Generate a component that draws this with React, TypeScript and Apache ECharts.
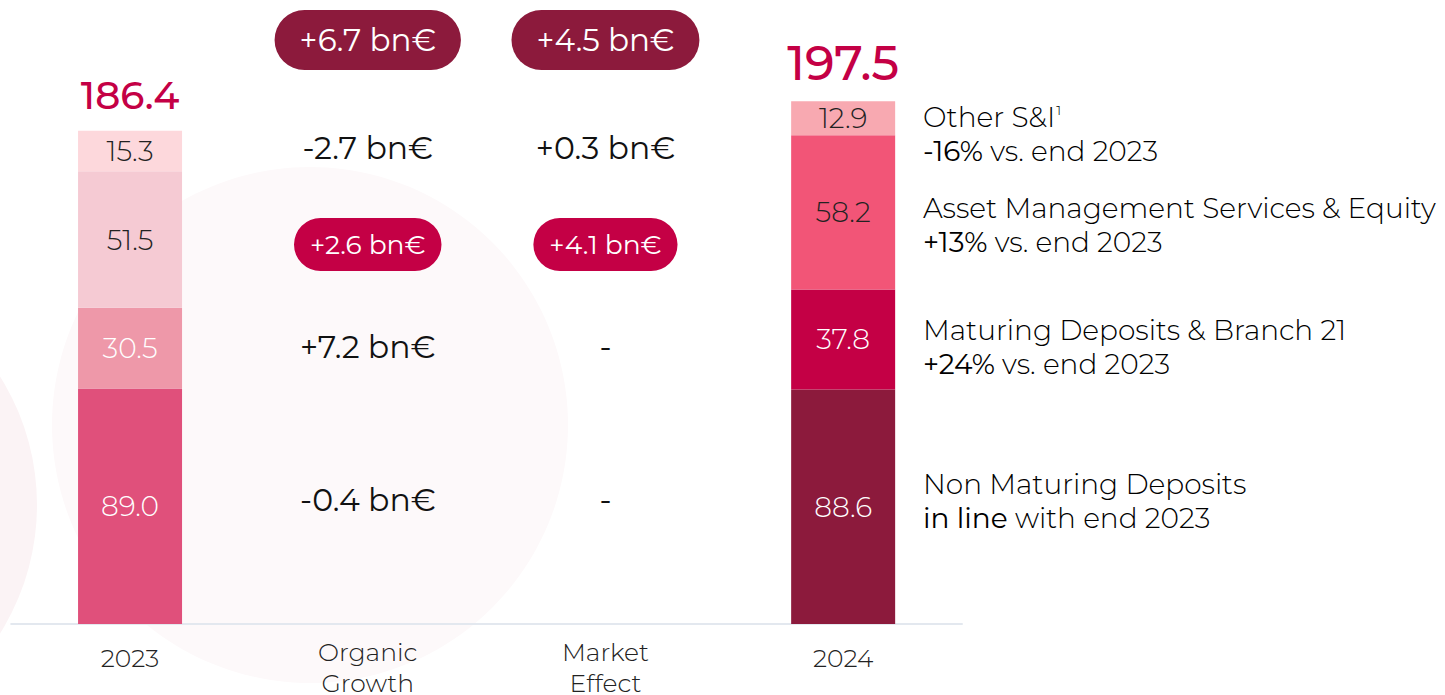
import React, { useEffect, useRef } from "react";
import * as echarts from "echarts";

// ---- data ----
const categories = ["2023", "Organic\nGrowth", "Market\nEffect", "2024"];
const segments = [
  "Non Maturing Deposits",
  "Maturing Deposits & Branch 21",
  "Asset Management Services & Equity",
  "Other S&I",
];
const values2023 = [89.0, 30.5, 51.5, 15.3];
const values2024 = [88.6, 37.8, 58.2, 12.9];
const totals = [186.4, 197.5];
const organicDeltas = ["-0.4 bn€", "+7.2 bn€", "+2.6 bn€", "-2.7 bn€"];
const marketDeltas = ["-", "-", "+4.1 bn€", "+0.3 bn€"];
const highlightedSegment = 2;
const totalDeltas = ["+6.7 bn€", "+4.5 bn€"];
const changeHead = ["in line", "+24%", "+13%", "-16%"];
const changeTail = [" with end 2023", " vs. end 2023", " vs. end 2023", " vs. end 2023"];

// ---- styles / layout ----
const FONT = "Montserrat, Inter, 'Open Sans', sans-serif";
const colors2023 = ["#E0507B", "#EE98A9", "#F5CAD3", "#FDD8DC"];
const colors2024 = ["#8C1A3C", "#C40045", "#F25577", "#F8A9B1"];
const labelColors2023 = ["#ffffff", "#ffffff", "#222222", "#222222"];
const labelColors2024 = ["#ffffff", "#ffffff", "#222222", "#222222"];
const DARK = "#8C1A3C";
const CRIMSON = "#C40045";
const Y_MAX = 230;
const TOP_ROW = 220.6;
const rowOffsets = [-6, -1, 5, -3];
const legendTops = [470, 316, 194, 100];

export default function App() {
  const ref = useRef<HTMLDivElement>(null);
  useEffect(() => {
    if (!ref.current) return;
    const chart = echarts.init(ref.current, undefined, { renderer: "svg" });

    // midpoints of 2023 segments, used to place the bridge rows
    const mids: number[] = [];
    let acc = 0;
    values2023.forEach((v) => {
      mids.push(acc + v / 2);
      acc += v;
    });

    const plainLabel = (i: number) => ({
      show: true,
      position: "inside",
      offset: [0, rowOffsets[i]],
      color: "#111",
      opacity: 1,
      fontSize: 31.5,
      fontWeight: 400,
      fontFamily: FONT,
    });
    const smallPill = (i: number) => ({
      show: true,
      position: "inside",
      offset: [0, rowOffsets[i]],
      color: "#fff",
      opacity: 1,
      fontSize: 26.5,
      fontWeight: 400,
      fontFamily: FONT,
      backgroundColor: CRIMSON,
      borderRadius: 27,
      padding: [11, 16, 11, 16],
      lineHeight: 31,
    });
    const bigPill = {
      show: true,
      position: "inside",
      color: "#fff",
      opacity: 1,
      fontSize: 31,
      fontWeight: 400,
      fontFamily: FONT,
      backgroundColor: DARK,
      borderRadius: 30,
      padding: [13, 25, 13, 25],
      lineHeight: 34,
    };

    const deltaSeries = (col: number, texts: string[], total: string, name: string) => ({
      type: "scatter",
      name,
      symbolSize: 0,
      silent: true,
      z: 5,
      itemStyle: { opacity: 1 },
      label: { show: true, formatter: (p: any) => p.data.text },
      data: [
        ...texts.map((t, i) => ({
          value: [col, mids[i]],
          text: t,
          label: i === highlightedSegment ? smallPill(i) : plainLabel(i),
        })),
        { value: [col, TOP_ROW], text: total, label: bigPill },
      ],
    });

    const barSeries = segments.map((name, i) => ({
      type: "bar",
      name,
      stack: "total",
      barWidth: 104,
      z: 2,
      label: {
        show: true,
        position: "inside",
        formatter: (p: any) => Number(p.value).toFixed(1),
        fontSize: 28,
        fontWeight: 300,
        fontFamily: FONT,
      },
      data: [
        { value: values2023[i], itemStyle: { color: colors2023[i] }, label: { color: labelColors2023[i] } },
        "-",
        "-",
        { value: values2024[i], itemStyle: { color: colors2024[i] }, label: { color: labelColors2024[i] } },
      ],
    }));

    const totalSeries = {
      type: "scatter",
      name: "Total",
      symbolSize: 0,
      silent: true,
      z: 5,
      itemStyle: { opacity: 1 },
      data: [
        { value: [0, totals[0]], label: { fontSize: 39, distance: 16 } },
        { value: [3, totals[1]], label: { fontSize: 48, distance: 14 } },
      ],
      label: {
        show: true,
        position: "top",
        color: CRIMSON,
        opacity: 1,
        fontWeight: 500,
        fontFamily: FONT,
        formatter: (p: any) => Number(p.value[1]).toFixed(1),
      },
    };

    const LF = 28;
    const legendRich = {
      a: { fontSize: LF, fontWeight: 300, color: "#333", fontFamily: FONT, lineHeight: 34 },
      b: { fontSize: LF, fontWeight: 400, color: "#111", fontFamily: FONT, lineHeight: 34 },
      s: { fontSize: 14, fontWeight: 300, color: "#333", fontFamily: FONT, lineHeight: 34, verticalAlign: "top", padding: [3, 0, 0, 1] },
    };

    const legendTexts = segments.map((name, i) => {
      const head = i === 3 ? "{a|Other S&I}{s|1}" : `{a|${name}}`;
      return {
        type: "text",
        left: 923,
        top: legendTops[i],
        silent: true,
        style: {
          text: `${head}\n{b|${changeHead[i]}}{a|${changeTail[i]}}`,
          rich: legendRich,
        },
      };
    });

    chart.setOption({
      animation: false,
      backgroundColor: "#ffffff",
      grid: { left: 11.2, width: 950.8, top: 695 - 71 - Y_MAX * 2.647, bottom: 71, containLabel: false },
      xAxis: {
        type: "category",
        data: categories,
        axisLine: { show: true, lineStyle: { color: "#E3E8EF", width: 2 } },
        axisTick: { show: false },
        axisLabel: {
          margin: 12,
          formatter: (v: string, idx: number) =>
            idx === 0 || idx === 3
              ? `{y|${v}}`
              : v.split("\n").map((s) => `{c|${s}}`).join("\n"),
          rich: {
            y: { fontSize: 25, fontWeight: 300, color: "#222", fontFamily: FONT, lineHeight: 31, padding: [13, 0, 0, 0] },
            c: { fontSize: 25, fontWeight: 300, color: "#222", fontFamily: FONT, lineHeight: 31 },
          },
        },
      },
      yAxis: { type: "value", min: 0, max: Y_MAX, show: false, splitLine: { show: false } },
      graphic: [
        { type: "circle", z: -10, silent: true, shape: { cx: 310, cy: 425, r: 258 }, style: { fill: "#FDF9FA" } },
        { type: "circle", z: -9, silent: true, shape: { cx: -205, cy: 505, r: 242 }, style: { fill: "#FBF3F5" } },
        ...legendTexts,
      ],
      series: [...barSeries, totalSeries, deltaSeries(1, organicDeltas, totalDeltas[0], "Organic Growth"), deltaSeries(2, marketDeltas, totalDeltas[1], "Market Effect")],
    });
    return () => chart.dispose();
  }, []);
  return (
    <div
      ref={ref}
      style={{ position: "fixed", left: 0, top: 0, width: 1445, height: 695 }}
    />
  );
}
